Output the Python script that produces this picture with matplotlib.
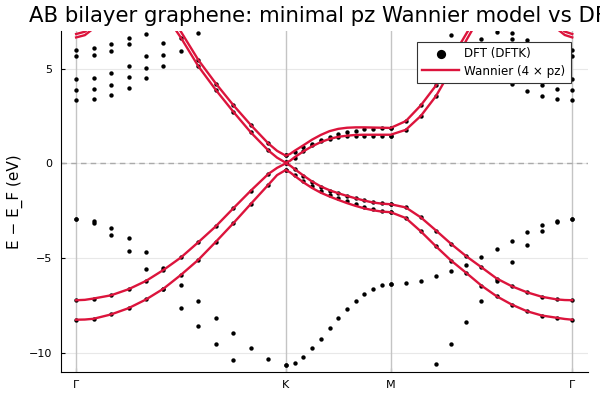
import matplotlib
matplotlib.use("Agg")
import matplotlib.pyplot as plt
import numpy as np

# band path Γ-K-M-Γ, lengths in units of |ΓK|
kpt_labels = ["Γ", "K", "M", "Γ"]
seg_lengths = [1.0, 0.5, 0.866]
n_steps = 12

# DFT eigenvalues (eV, relative to E_F), one list per k point, 13 per segment
dft_gk = [
    [6.00, 5.65, 4.47, 3.87, 3.32, -2.94, -2.94, -7.23, -8.26],
    [6.07, 5.72, 4.53, 3.95, 3.40, -3.04, -3.16, -7.14, -8.21],
    [6.28, 5.93, 4.75, 4.16, 3.61, -3.41, -3.76, -6.97, -7.98],
    [6.63, 6.32, 5.12, 4.54, 3.98, -3.97, -4.62, -6.65, -7.65],
    [6.84, 5.65, 5.05, 4.49, -4.68, -5.60, -6.21, -7.19],
    [6.35, 5.72, 5.14, -5.51, -5.63, -6.62, -6.62],
    [6.63, 5.95, -4.97, -5.89, -6.41, -7.62],
    [6.87, 5.45, 5.12, -4.16, -5.09, -7.27, -8.58],
    [4.21, 3.87, -3.32, -4.14, -8.16, -9.53],
    [3.07, 2.72, -2.37, -3.16, -8.98, -10.39],
    [2.02, 1.63, -1.44, -2.14, -9.74],
    [1.05, 0.68, -0.56, -1.13, -10.35],
    [0.44, 0.05, 0.00, -0.35, -10.67],
]
dft_km = [
    [0.44, 0.05, 0.00, -0.35, -10.67],
    [0.58, 0.30, -0.32, -0.62, -10.56],
    [0.86, 0.65, -0.65, -0.92, -10.23],
    [1.02, 0.96, -0.97, -1.18, -9.77],
    [1.21, 1.17, -1.23, -1.44, -9.26],
    [1.38, 1.28, -1.44, -1.67, -8.72],
    [1.53, 1.37, -1.58, -1.83, -8.19],
    [1.66, 1.42, -1.72, -1.99, -7.68],
    [1.72, 1.45, -1.84, -2.14, -7.25],
    [1.79, 1.45, -1.95, -2.28, -6.88],
    [1.82, 1.45, -2.05, -2.42, -6.62],
    [1.84, 1.45, -2.12, -2.51, -6.42],
    [1.84, 1.45, -2.16, -2.58, -6.35],
]
dft_mg = [
    [1.84, 1.45, -2.16, -2.58, -6.35],
    [2.23, 1.74, -2.33, -2.89, -6.30],
    [3.07, 2.51, -2.86, -3.60, -6.19],
    [4.12, 3.56, -3.55, -4.39, -5.97, -10.62],
    [6.80, 5.50, 4.90, -4.26, -5.14, -5.68, -9.53],
    [6.10, -4.91, -5.79, -5.35, -8.40],
    [6.55, 5.40, -5.49, -6.46, -4.97, -7.29],
    [6.93, 5.30, 4.75, -6.10, -7.02, -4.53, -6.23],
    [6.86, 6.58, 5.40, 4.65, 4.21, -6.49, -7.46, -4.09, -5.23],
    [6.49, 6.20, 5.00, 4.40, 3.82, -6.81, -7.81, -3.65, -4.32],
    [6.20, 5.90, 4.70, 4.12, 3.56, -7.05, -8.04, -3.28, -3.58],
    [6.05, 5.70, 4.50, 3.91, 3.38, -7.19, -8.16, -3.02, -3.10],
    [6.00, 5.65, 4.46, 3.86, 3.32, -2.93, -2.93, -7.23, -8.26],
]

# Wannier bands: sample positions (in grid steps) and the 4 pz bands
wan_t_gk = [0, 0.5, 1, 2, 3, 4, 5, 6, 7, 8, 9, 10, 11, 11.5, 12]
wan_gk = [
    [-8.26, -8.25, -8.21, -7.98, -7.65, -7.19, -6.62, -5.89, -5.09, -4.14, -3.16, -2.14, -1.13, -0.62, -0.35],
    [-7.23, -7.21, -7.14, -6.97, -6.65, -6.21, -5.63, -4.97, -4.16, -3.32, -2.37, -1.44, -0.56, -0.24, 0.00],
    [6.65, 6.77, 7.13, 7.90, 8.40, 8.60, 8.00, 6.63, 5.12, 3.87, 2.72, 1.63, 0.68, 0.30, 0.03],
    [6.83, 6.95, 7.32, 8.10, 8.60, 8.80, 8.30, 6.95, 5.45, 4.21, 3.07, 2.02, 1.05, 0.66, 0.40],
]
wan_t_km = [0, 0.5, 1, 2, 3, 4, 5, 6, 7, 8, 9, 10, 11, 12]
wan_km = [
    [-0.35, -0.48, -0.66, -1.00, -1.30, -1.55, -1.75, -1.93, -2.10, -2.25, -2.38, -2.48, -2.55, -2.58],
    [0.00, -0.12, -0.30, -0.64, -0.96, -1.22, -1.42, -1.58, -1.72, -1.85, -1.97, -2.07, -2.13, -2.16],
    [0.03, 0.14, 0.32, 0.63, 0.90, 1.12, 1.29, 1.40, 1.46, 1.50, 1.51, 1.51, 1.51, 1.51],
    [0.40, 0.50, 0.66, 0.95, 1.25, 1.50, 1.70, 1.82, 1.88, 1.90, 1.90, 1.89, 1.88, 1.87],
]
wan_t_mg = [0, 1, 2, 3, 4, 5, 6, 7, 8, 9, 10, 11, 11.5, 12]
wan_mg = [
    [-2.58, -2.89, -3.60, -4.39, -5.14, -5.79, -6.46, -7.02, -7.46, -7.81, -8.04, -8.16, -8.22, -8.26],
    [-2.16, -2.33, -2.86, -3.55, -4.26, -4.91, -5.49, -6.08, -6.49, -6.81, -7.05, -7.19, -7.22, -7.23],
    [1.51, 1.77, 2.51, 3.56, 4.95, 6.50, 7.90, 8.60, 8.80, 8.60, 8.00, 7.10, 6.78, 6.65],
    [1.87, 2.23, 3.07, 4.12, 5.50, 6.85, 8.20, 8.90, 9.00, 8.80, 8.20, 7.30, 6.96, 6.83],
]

seg_start = np.concatenate([[0.0], np.cumsum(seg_lengths)])
red = "#DC143C"

fig = plt.figure(figsize=(6, 4), dpi=100)
ax = fig.add_axes([0.101, 0.071, 0.879, 0.852])

# DFT points
xs, es = [], []
for s, seg in enumerate([dft_gk, dft_km, dft_mg]):
    for i, col in enumerate(seg):
        x = seg_start[s] + i / n_steps * seg_lengths[s]
        for e in col:
            xs.append(x)
            es.append(e)
ax.scatter(xs, es, s=10, color="black", linewidths=0, zorder=3, label="DFT (DFTK)")

# Wannier bands, joined over the whole path
for b in range(4):
    bx, be = [], []
    for s, (ts, bands) in enumerate([(wan_t_gk, wan_gk), (wan_t_km, wan_km), (wan_t_mg, wan_mg)]):
        for t, e in zip(ts, bands[b]):
            bx.append(seg_start[s] + t / n_steps * seg_lengths[s])
            be.append(e)
    ax.plot(bx, be, color=red, lw=1.7, zorder=4,
            label="Wannier (4 × pz)" if b == 0 else None)

for x in seg_start:
    ax.axvline(x, color="#c4c4c4", lw=1.0, zorder=1)
ax.axhline(0, color="#aaaaaa", lw=1.0, ls=(0, (4, 3)), zorder=1)

ax.set_xlim(-0.074, seg_start[-1] + 0.075)
ax.set_ylim(-11, 7)
ax.set_xticks(seg_start)
ax.set_xticklabels(kpt_labels)
ax.set_yticks([-10, -5, 0, 5])
ax.grid(axis="y", color="#e8e8e8", lw=0.8, zorder=0)
ax.set_axisbelow(True)
for side in ["top", "right"]:
    ax.spines[side].set_visible(False)
ax.tick_params(direction="in", length=3, labelsize=8, pad=6)
ax.set_ylabel("E − E_F (eV)", fontsize=11)
ax.set_title("AB bilayer graphene: minimal pz Wannier model vs DFT", fontsize=15.3)

leg = ax.legend(loc="upper right", bbox_to_anchor=(571 / 600, 1 - 42 / 400),
                bbox_transform=fig.transFigure, borderaxespad=0, fontsize=8.6,
                fancybox=False, framealpha=1, edgecolor="#333333", markerscale=2.1,
                handlelength=3.1, handletextpad=0.45, labelspacing=0.35, borderpad=0.45)
leg.get_frame().set_linewidth(0.8)
leg.set_zorder(10)

fig.savefig("out.png", dpi=100)
